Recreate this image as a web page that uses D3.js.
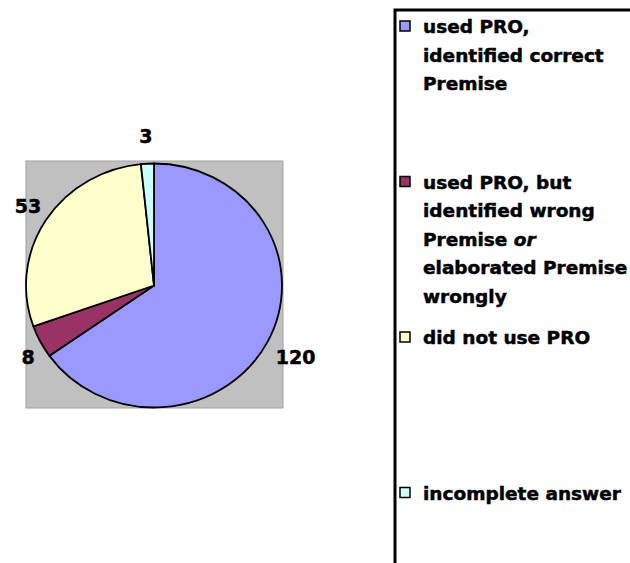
<!DOCTYPE html>
<html>
<head>
<meta charset="utf-8">
<script src="https://cdn.jsdelivr.net/npm/d3@7"></script>
<style>
html, body { margin: 0; padding: 0; background: #fff; }
svg { display: block; }
</style>
</head>
<body>
<svg id="chart" width="630" height="563"></svg>
<script>
const categories = [
  "used PRO, identified correct Premise",
  "used PRO, but identified wrong Premise or elaborated Premise wrongly",
  "did not use PRO",
  "incomplete answer"
];
const values = [120, 8, 53, 3];
const colors = ["#9999FF", "#993366", "#FFFFCC", "#CCFFFF"];
const legendLines = [
  [["used PRO,"], ["identified correct"], ["Premise"]],
  [["used PRO, but"], ["identified wrong"], ["Premise ", "or"], ["elaborated Premise"], ["wrongly"]],
  [["did not use PRO"]],
  [["incomplete answer"]]
];

const svg = d3.select("#chart");
const W = 630, H = 563;

// plot area
const box = { x: 26, y: 161, w: 257, h: 247 };
const cx = 154, cy = 285.5;
const ry = 122, rx = 128;
const sx = rx / ry;

svg.append("rect")
  .attr("x", box.x).attr("y", box.y)
  .attr("width", box.w).attr("height", box.h)
  .attr("fill", "#C0C0C0")
  .attr("stroke", "#A0A0A0").attr("stroke-width", 1);

const data = categories.map((c, i) => ({ name: c, value: values[i], color: colors[i] }));
const pie = d3.pie().value(d => d.value).sort(null);
const arcs = pie(data);
const arc = d3.arc().innerRadius(0).outerRadius(ry);

const g = svg.append("g").attr("transform", `translate(${cx},${cy}) scale(${sx},1)`);
g.selectAll("path").data(arcs).enter().append("path")
  .attr("d", arc)
  .attr("fill", d => d.data.color)
  .attr("stroke", "#000")
  .attr("stroke-width", 1.8)
  .attr("vector-effect", "non-scaling-stroke")
  .attr("stroke-linejoin", "round");

// labels
const labelR = 152;
svg.selectAll("text.lbl").data(arcs).enter().append("text")
  .attr("class", "lbl")
  .each(function(d) {
    const a = (d.startAngle + d.endAngle) / 2;
    let x = cx + Math.sin(a) * labelR * sx;
    const y = cy - Math.cos(a) * labelR + 2;
    x = Math.max(x, 28);
    d3.select(this).attr("x", x).attr("y", y);
  })
  .attr("text-anchor", "middle")
  .attr("dominant-baseline", "central")
  .attr("font-family", "DejaVu Sans, Verdana, sans-serif")
  .attr("font-weight", "bold")
  .attr("font-size", 19)
  .attr("fill", "#000")
  .attr("stroke", "#000").attr("stroke-width", 0.5)
  .text(d => d.data.value);

// legend border (partial box, cut by image edges)
svg.append("path")
  .attr("d", `M395,${H + 2} L395,10 L${W + 2},10`)
  .attr("fill", "none")
  .attr("stroke", "#000")
  .attr("stroke-width", 3);

const legY0 = 26, legStep = 155.5, lineH = 28.5;
const leg = svg.append("g");
data.forEach((d, i) => {
  const y0 = legY0 + i * legStep;
  leg.append("rect")
    .attr("x", 400).attr("y", y0 - 5)
    .attr("width", 10).attr("height", 10)
    .attr("fill", d.color)
    .attr("stroke", "#000").attr("stroke-width", 1.5);
  legendLines[i].forEach((parts, j) => {
    const t = leg.append("text")
      .attr("x", 423).attr("y", y0 + j * lineH)
      .attr("dominant-baseline", "central")
      .attr("font-family", "DejaVu Sans, Verdana, sans-serif")
      .attr("font-weight", "bold")
      .attr("font-size", 18.5)
      .attr("fill", "#000")
      .attr("stroke", "#000").attr("stroke-width", 0.5);
    parts.forEach((p, k) => {
      const ts = t.append("tspan").text(p);
      if (p === "or") ts.attr("font-style", "italic");
    });
  });
});
</script>
</body>
</html>
